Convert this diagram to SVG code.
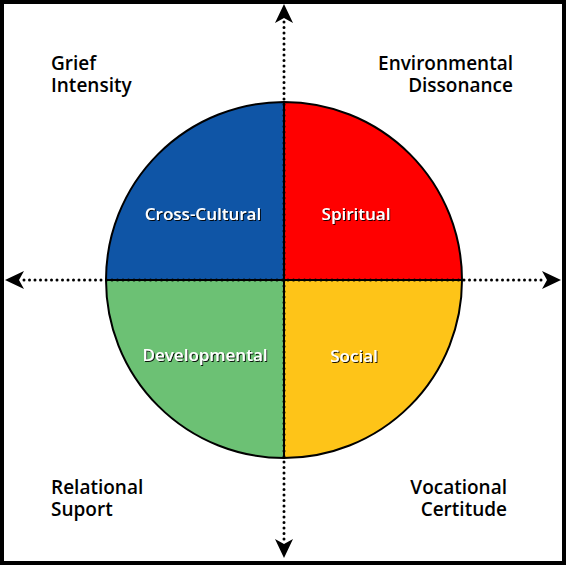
<svg xmlns="http://www.w3.org/2000/svg" width="566" height="565" viewBox="0 0 566 565">
<style>
.corner{font-family:"Open Sans","Liberation Sans",sans-serif;font-weight:600;font-size:19px;fill:#000}
.ql{font-family:"Open Sans","Liberation Sans",sans-serif;font-weight:600;font-size:17px;fill:#fff;text-anchor:middle;filter:url(#sh)}
.axis{stroke:#000;stroke-width:3;stroke-linecap:round;stroke-dasharray:0 5.5;fill:none}
.q{stroke:#000;stroke-width:2}
</style>
<defs>
<filter id="sh" x="-10%" y="-30%" width="130%" height="160%">
<feDropShadow dx="1" dy="1" stdDeviation="0.6" flood-color="#000" flood-opacity="0.9"/>
</filter>
</defs>
<rect x="2" y="2" width="562" height="561" fill="#fff" stroke="#000" stroke-width="4"/>
<g id="quadrants">
<g id="cross-cultural"><path class="q" d="M284,280 L106,280 A178,178 0 0 1 284,102 Z" fill="#0f55a6"/><text class="ql" x="203" y="220">Cross-Cultural</text></g>
<g id="spiritual"><path class="q" d="M284,280 L284,102 A178,178 0 0 1 462,280 Z" fill="#ff0000"/><text class="ql" x="356" y="220">Spiritual</text></g>
<g id="developmental"><path class="q" d="M284,280 L284,458 A178,178 0 0 1 106,280 Z" fill="#6cc174"/><text class="ql" x="205" y="361">Developmental</text></g>
<g id="social"><path class="q" d="M284,280 L462,280 A178,178 0 0 1 284,458 Z" fill="#fec418"/><text class="ql" x="354" y="362">Social</text></g>
</g>
<g id="connectors">
<line class="axis" x1="284" y1="22" x2="284" y2="540"/>
<line class="axis" x1="24" y1="280" x2="543" y2="280"/>
<polygon points="284,4 293,23 284,18 275,23" fill="#000"/>
<polygon points="284,558 293,539 284,544 275,539" fill="#000"/>
<polygon points="5,280 24,271 19,280 24,289" fill="#000"/>
<polygon points="561,280 542,271 547,280 542,289" fill="#000"/>
</g>
<g id="labels">
<g id="grief"><text class="corner" x="51" y="70">Grief</text><text class="corner" x="51" y="92">Intensity</text></g>
<g id="environmental"><text class="corner" x="513" y="70" text-anchor="end">Environmental</text><text class="corner" x="513" y="92" text-anchor="end">Dissonance</text></g>
<g id="relational"><text class="corner" x="51" y="494">Relational</text><text class="corner" x="51" y="516">Suport</text></g>
<g id="vocational"><text class="corner" x="507" y="494" text-anchor="end">Vocational</text><text class="corner" x="507" y="516" text-anchor="end">Certitude</text></g>
</g>
</svg>
